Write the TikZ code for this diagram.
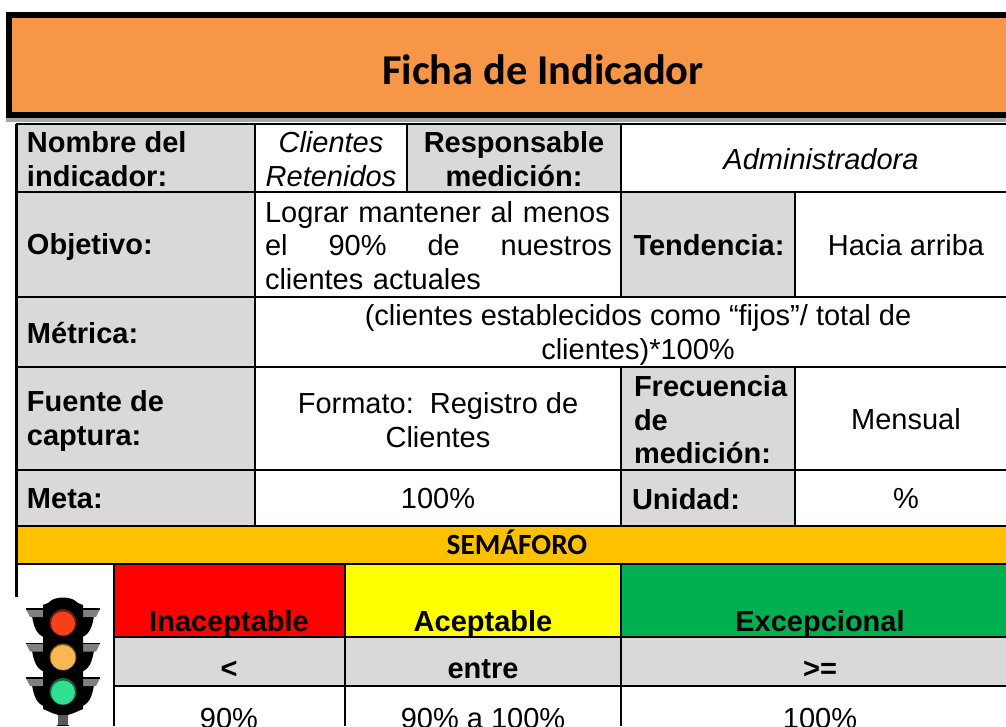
\documentclass[tikz,border=0pt]{standalone}
\usepackage{fontspec}
\setmainfont{Liberation Sans}
\newfontfamily\carlitofont{Carlito}
\definecolor{orangeT}{HTML}{F79646}
\definecolor{amberT}{HTML}{FFC000}
\definecolor{greyT}{HTML}{D9D9D9}
\definecolor{greenT}{HTML}{00B050}
\definecolor{redT}{HTML}{FF0000}
\definecolor{yellowT}{HTML}{FFFF00}
\definecolor{lampR}{HTML}{F5401A}
\definecolor{lampY}{HTML}{FAB650}
\definecolor{lampG}{HTML}{30E090}
\tikzset{
 base/.style={inner sep=0pt,outer sep=0pt,align=center},
 lab/.style={base,font=\bfseries\fontsize{29}{33.5}\selectfont},
 val/.style={base,font=\fontsize{29}{33.5}\selectfont},
 ital/.style={base,font=\itshape\fontsize{29}{33.5}\selectfont},
 grid/.style={line width=2.8pt,black},
 fine/.style={line width=2.2pt,black},
}
\begin{document}
\begin{tikzpicture}[x=1pt,y=-1pt]
\useasboundingbox (0,0) rectangle (1006,726);
\clip (0,0) rectangle (1006,726);
% title band
\fill[black] (6,12) rectangle (1006,118);
\fill[orangeT] (12,18) rectangle (1006,112);
\fill[black!35] (6,118) rectangle (1006,122);
% fills
\fill[greyT] (17,124) rectangle (255,526);
\fill[greyT] (407,124) rectangle (621,192);
\fill[greyT] (621,192) rectangle (795,297);
\fill[greyT] (621,367) rectangle (795,526);
\fill[amberT] (17,526) rectangle (1006,564);
\fill[redT] (115,564) rectangle (345,637);
\fill[yellowT] (345,564) rectangle (621,637);
\fill[greenT] (621,564) rectangle (1006,637);
\fill[greyT] (115,637) rectangle (1006,686);
% rules
\draw[grid] (16,124) -- (1006,124);
\draw[grid] (16,192) -- (1006,192);
\draw[grid] (16,297) -- (1006,297);
\draw[grid] (16,367) -- (1006,367);
\draw[grid] (16,470) -- (1006,470);
\draw[grid] (16,526) -- (1006,526);
\draw[grid] (16,564) -- (1006,564);
\draw[fine] (115,637) -- (1006,637);
\draw[fine] (115,686) -- (1006,686);
\draw[grid] (16.5,124) -- (16.5,726);
\draw[grid] (255,124) -- (255,526);
\draw[grid] (407,124) -- (407,192);
\draw[grid] (621,124) -- (621,297);
\draw[grid] (621,367) -- (621,526);
\draw[grid] (621,564) -- (621,726);
\draw[grid] (795,192) -- (795,297);
\draw[grid] (795,367) -- (795,526);
\draw[grid] (114,564) -- (114,726);
\draw[grid] (345,564) -- (345,726);
% title
\node[base,font=\carlitofont\bfseries\fontsize{42.5}{44}\selectfont,anchor=base] (title) at (543,84) {Ficha de Indicador};
% left labels
\node[lab,align=left,anchor=west] (nombre) at (27,159) {Nombre del\\indicador:};
\node[lab,anchor=west] (objetivo) at (27,247) {Objetivo:};
\node[lab,anchor=west] (metrica) at (27,333) {Métrica:};
\node[lab,align=left,anchor=west] (fuente) at (27,421) {Fuente de\\captura:};
\node[lab,anchor=west] (meta) at (27,499) {Meta:};
% row 1
\node[ital] (clientes) at (331,159) {Clientes\\Retenidos};
\node[lab] (resp) at (514,159) {Responsable\\medición:};
\node[ital] (admin) at (821,159) {Administradora};
% row 2
\node[val,text width=347pt,align=left,anchor=west] (logro) at (265,245.5) {Lograr mantener al menos\\el\hfill 90\%\hfill de\hfill nuestros\\clientes actuales};
\node[lab] (tend) at (709,245) {Tendencia:};
\node[val] (arriba) at (906,245) {Hacia arriba};
% row 3
\node[val] (formula) at (638,335) {(clientes establecidos como “fijos”/ total de\\clientes)*100\%};
% row 4
\node[val] (formato) at (438,420) {Formato:\ \ Registro de\\Clientes};
\node[lab,align=left,anchor=west] (frec) at (634,420) {Frecuencia\\de\\medición:};
\node[val] (mensual) at (906,419) {Mensual};
% row 5
\node[val] (cien) at (438,499) {100\%};
\node[lab] (unidad) at (686,499) {Unidad:};
\node[val] (pct) at (906,499) {\%};
% semaforo
\node[base,font=\carlitofont\bfseries\fontsize{29.3}{31}\selectfont,anchor=base] (sem) at (517,554) {SEMÁFORO};
\node[lab,anchor=base] (inac) at (229,631) {Inaceptable};
\node[lab,anchor=base] (acep) at (483,631) {Aceptable};
\node[lab,anchor=base] (exce) at (820,631) {Excepcional};
\node[lab,anchor=base] (lt) at (229,678) {<};
\node[lab,anchor=base] (entre) at (483,678) {entre};
\node[lab,anchor=base] (ge) at (820,678) {>=};
\node[val,anchor=base] (v1) at (229,728) {90\%};
\node[val,anchor=base] (v2) at (483,728) {90\% a 100\%};
\node[val,anchor=base] (v3) at (820,728) {100\%};
% traffic light
\fill[white] (15,597) rectangle (112.5,726);
\foreach \yy in {0,34.5,69}{
  \fill[black] (32,616+\yy) .. controls (34,628+\yy) and (37,636+\yy) .. (47,638+\yy)
     -- (79,638+\yy) .. controls (89,636+\yy) and (92,628+\yy) .. (94,616+\yy) -- cycle;
  \fill[black!50] (26,609+\yy) -- (44,609+\yy) -- (44,617+\yy) -- (30,617+\yy) -- cycle;
  \fill[black!50] (100,609+\yy) -- (82,609+\yy) -- (82,617+\yy) -- (96,617+\yy) -- cycle;
  \draw[black,line width=1.3pt] (26,609+\yy) -- (44,609+\yy);
  \draw[black,line width=1.3pt] (100,609+\yy) -- (82,609+\yy);
}
\fill[black] (48,603) .. controls (52,599) and (57,597.5) .. (63,597.5) .. controls (69,597.5) and (74,599) .. (78,603) -- (83,605) -- (83,709) -- (76,712) .. controls (72,714) and (68,715) .. (63,715) .. controls (58,715) and (54,714) .. (50,712) -- (43,709) -- (43,605) -- cycle;
\fill[black] (57,712) rectangle (69,715);
\fill[black!65] (58,715) rectangle (68,725);
\fill[black] (57,725) rectangle (69,726);
\fill[lampR!45!black] (63,622.5) circle (13.5);
\fill[lampY!45!black] (63,657) circle (13.5);
\fill[lampG!45!black] (63,691.5) circle (13.5);
\fill[lampR] (63,623.5) circle (12);
\fill[lampY] (63,657.5) circle (12.5);
\fill[lampG] (63,692.5) circle (12);
\end{tikzpicture}
\end{document}
